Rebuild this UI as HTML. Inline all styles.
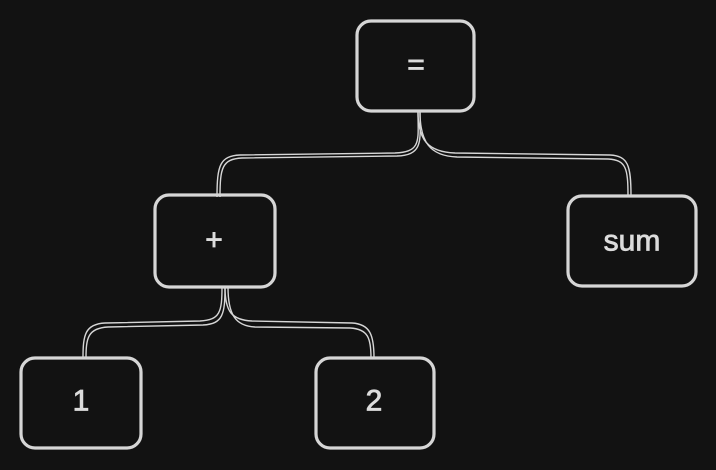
<!DOCTYPE html>
<html><head><meta charset="utf-8"><style>
html,body{margin:0;padding:0;background:#121212;width:716px;height:470px;overflow:hidden}
svg{display:block}
text{font-family:"Liberation Sans",sans-serif;fill:#dcdcdc;stroke:#dcdcdc;stroke-width:0.8;font-size:30px;text-anchor:middle;dominant-baseline:central}
</style></head><body>
<svg width="716" height="470" viewBox="0 0 716 470">
<g fill="none" stroke="#d6d6d6" stroke-width="3.2">
<rect x="357" y="21" width="117" height="90" rx="14"/>
<rect x="155" y="195" width="120" height="92" rx="14"/>
<rect x="568" y="196" width="128" height="90" rx="14"/>
<rect x="21" y="358" width="120" height="90" rx="14"/>
<rect x="316" y="358" width="118" height="90" rx="14"/>
</g>
<g fill="none" stroke="#d6d6d6" stroke-width="1.4">
<path d="M418 112 C418 140 422 152 395 153 L240 155 C220 156 217 165 217 197"/>
<path d="M420 112 C420 140 424 155 397 156 L242 158 C222 159 220 168 220 197"/>
<path d="M418 112 C418 140 428 152 455 153 L610 155 C628 156 631 165 631 196"/>
<path d="M420 112 C420 142 430 156 457 157 L608 159 C626 160 628 168 628 196"/>
<path d="M222 287 C222 312 220 320 200 321 L105 323 C85 324 83 335 83 358"/>
<path d="M225 287 C225 314 223 324 203 325 L108 327 C88 328 86 338 86 358"/>
<path d="M225 287 C225 312 232 320 252 321 L352 323 C370 324 374 335 374 358"/>
<path d="M228 287 C228 314 235 326 255 327 L350 328 C368 329 371 338 371 358"/>
</g>
<text x="416" y="65">=</text>
<text x="214" y="240">+</text>
<text x="632" y="241">sum</text>
<text x="81" y="401">1</text>
<text x="374" y="401">2</text>
</svg>
</body></html>
